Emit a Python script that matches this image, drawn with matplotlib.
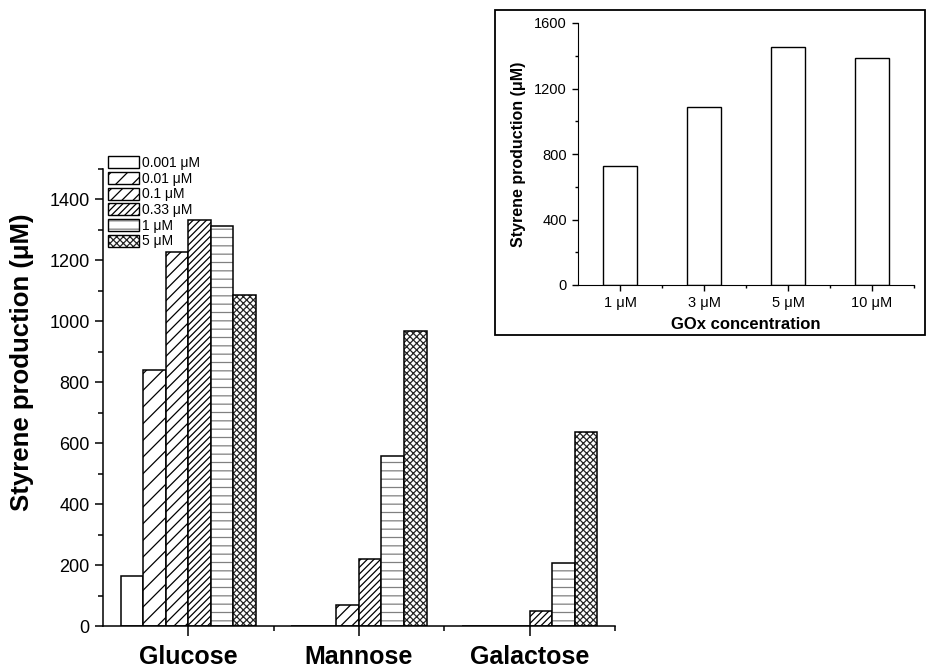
import matplotlib.pyplot as plt
import numpy as np
from matplotlib.patches import Patch, Rectangle
from matplotlib.ticker import MultipleLocator

plt.rcParams['font.family'] = ['Liberation Sans', 'DejaVu Sans']
plt.rcParams['hatch.linewidth'] = 0.9

# main chart data
sugars = ['Glucose', 'Mannose', 'Galactose']
conc_labels = ['0.001 μM', '0.01 μM', '0.1 μM', '0.33 μM', '1 μM', '5 μM']
c0001 = [165, 0, 0]
c001 = [840, 0, 0]
c01 = [1225, 70, 0]
c033 = [1332, 220, 48]
c1 = [1313, 558, 206]
c5 = [1086, 968, 636]
series = [c0001, c001, c01, c033, c1, c5]
hatches = ['', '//', '///', '/////', '--', 'xxxxx']
hatch_cols = ['k', 'k', 'k', 'k', '0.5', '0.15']

# inset data
gox = ['1 μM', '3 μM', '5 μM', '10 μM']
gox_vals = [727, 1085, 1453, 1388]

fig = plt.figure(figsize=(9.26, 6.65), dpi=100)

# main axes
ax = fig.add_axes([0.1112, 0.0586, 0.5529, 0.688])
x = np.arange(1, len(sugars) + 1)
w = 0.132
handles = []
for i, vals in enumerate(series):
    pos = x + (i - 2.5) * w
    ax.bar(pos, vals, w, facecolor='white', edgecolor=hatch_cols[i],
           hatch=hatches[i], linewidth=0)
    ax.bar(pos, vals, w, facecolor='none', edgecolor='k', linewidth=1.1)
    h1 = Patch(facecolor='white', edgecolor=hatch_cols[i], hatch=hatches[i], linewidth=0)
    h2 = Patch(facecolor='none', edgecolor='k', linewidth=1.0)
    handles.append((h1, h2))

ax.set_xlim(0.5, 3.5)
ax.set_ylim(0, 1500)
ax.set_xticks(x)
ax.set_xticklabels(sugars, fontsize=18, fontweight='bold')
ax.set_xticks([1.5, 2.5, 3.5], minor=True)
ax.yaxis.set_major_locator(MultipleLocator(200))
ax.yaxis.set_minor_locator(MultipleLocator(100))
ax.tick_params(axis='y', labelsize=13)
ax.tick_params(which='major', direction='out', length=6, width=1.1)
ax.tick_params(which='minor', direction='out', length=3.5, width=1.1)
ax.tick_params(axis='x', which='major', length=7, pad=7)
for s in ['top', 'right']:
    ax.spines[s].set_visible(False)
for s in ['left', 'bottom']:
    ax.spines[s].set_linewidth(1.1)

fig.text(22 / 926, 1 - 362 / 665, 'Styrene production (μM)', rotation=90,
         ha='center', va='center', fontsize=18.5, fontweight='bold')

ax.legend(handles, conc_labels, loc='upper left',
          bbox_to_anchor=(108 / 926, 1 - 156 / 665), bbox_transform=fig.transFigure,
          frameon=False, fontsize=10, borderpad=0, borderaxespad=0,
          handlelength=2.2, handleheight=0.95, labelspacing=0.12, handletextpad=0.25)

# inset frame
fig.patches.append(Rectangle((495 / 926, 1 - 335 / 665), 430 / 926, 325 / 665,
                             transform=fig.transFigure, facecolor='none',
                             edgecolor='k', linewidth=1.3))

ins = fig.add_axes([578 / 926, 1 - 285 / 665, 336 / 926, 262 / 665])
xi = np.arange(1, len(gox) + 1)
ins.bar(xi, gox_vals, 0.4, facecolor='white', edgecolor='k', linewidth=1.0)
ins.set_xlim(0.5, 4.5)
ins.set_ylim(0, 1600)
ins.set_xticks(xi)
ins.set_xticklabels(gox)
ins.set_xticks([1.5, 2.5, 3.5, 4.5], minor=True)
ins.yaxis.set_major_locator(MultipleLocator(400))
ins.yaxis.set_minor_locator(MultipleLocator(200))
ins.tick_params(labelsize=10.5)
ins.tick_params(which='major', direction='out', length=4.5, width=1.0)
ins.tick_params(which='minor', direction='out', length=2.5, width=1.0)
for s in ['top', 'right']:
    ins.spines[s].set_visible(False)
ins.set_xlabel('GOx concentration', fontsize=12, fontweight='bold', labelpad=5)
ins.set_ylabel('Styrene production (μM)', fontsize=11.5, fontweight='bold', labelpad=6)

fig.savefig('out.png', dpi=100)
